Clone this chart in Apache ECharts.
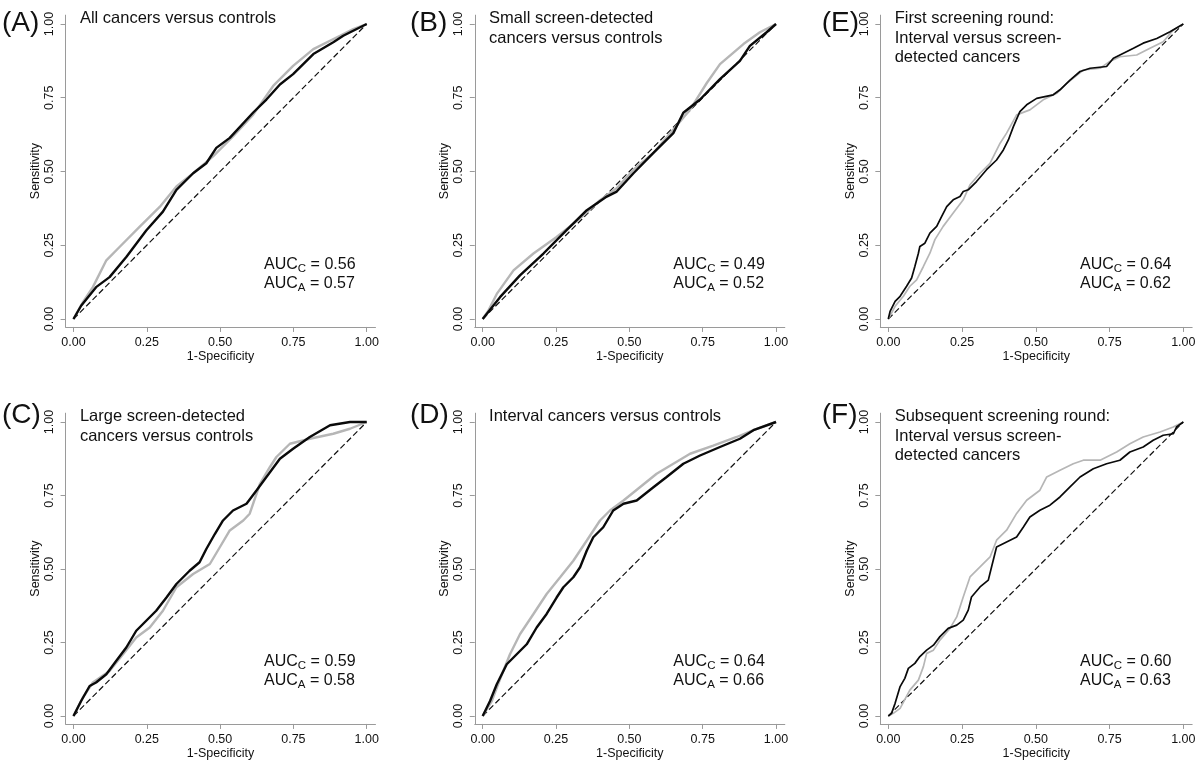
<!DOCTYPE html>
<html><head><meta charset="utf-8">
<script src="https://cdn.jsdelivr.net/npm/echarts@6/dist/echarts.min.js"></script>
<style>html,body{margin:0;padding:0;background:#fff}#c{width:1200px;height:766px}</style>
</head><body><div id="c"></div>
<script>
// ---------- data ----------
const panelLabels = ['(A)', '(B)', '(E)', '(C)', '(D)', '(F)'];
const panelTitles = [
  ['All cancers versus controls'],
  ['Small screen-detected', 'cancers versus controls'],
  ['First screening round:', 'Interval versus screen-', 'detected cancers'],
  ['Large screen-detected', 'cancers versus controls'],
  ['Interval cancers versus controls'],
  ['Subsequent screening round:', 'Interval versus screen-', 'detected cancers']
];
const aucC = ['0.56', '0.49', '0.64', '0.59', '0.64', '0.60'];
const aucA = ['0.57', '0.52', '0.62', '0.58', '0.66', '0.63'];
const tickValues = [0, 0.25, 0.5, 0.75, 1];
const tickLabels = ['0.00', '0.25', '0.50', '0.75', '1.00'];
const xAxisName = '1-Specificity';
const yAxisName = 'Sensitivity';
const diagonal = [[0, 0], [1, 1]];

const blackA = [[0,0],[0.026,0.045],[0.077,0.108],[0.123,0.142],[0.18,0.21],[0.248,0.30],[0.305,0.364],[0.351,0.438],[0.408,0.494],[0.453,0.528],[0.487,0.58],[0.533,0.614],[0.613,0.70],[0.658,0.744],[0.704,0.795],[0.749,0.83],[0.818,0.898],[0.886,0.938],[0.92,0.96],[1,1]];
const grayA = [[0,0],[0.032,0.057],[0.066,0.108],[0.112,0.199],[0.157,0.244],[0.226,0.313],[0.294,0.38],[0.351,0.449],[0.408,0.494],[0.476,0.551],[0.544,0.619],[0.613,0.693],[0.681,0.79],[0.749,0.858],[0.818,0.915],[0.909,0.96],[0.954,0.983],[1,1]];

const blackB = [[0,0],[0.059,0.074],[0.127,0.148],[0.207,0.222],[0.286,0.301],[0.355,0.369],[0.423,0.415],[0.457,0.432],[0.514,0.494],[0.582,0.563],[0.65,0.63],[0.684,0.699],[0.741,0.744],[0.809,0.813],[0.877,0.875],[0.911,0.926],[0.968,0.972],[1,1]];
const grayB = [[0,0],[0.019,0.028],[0.048,0.085],[0.105,0.165],[0.173,0.222],[0.252,0.278],[0.332,0.341],[0.4,0.403],[0.457,0.443],[0.514,0.506],[0.582,0.563],[0.65,0.642],[0.707,0.71],[0.764,0.80],[0.809,0.864],[0.889,0.932],[0.945,0.972],[1,1]];

const blackE = [[0,0],[0.006,0.026],[0.023,0.06],[0.04,0.077],[0.062,0.111],[0.079,0.139],[0.09,0.178],[0.102,0.223],[0.107,0.246],[0.124,0.257],[0.141,0.291],[0.164,0.314],[0.181,0.348],[0.198,0.381],[0.22,0.404],[0.243,0.415],[0.254,0.432],[0.271,0.438],[0.299,0.466],[0.333,0.506],[0.367,0.539],[0.39,0.573],[0.407,0.607],[0.424,0.652],[0.446,0.703],[0.469,0.726],[0.503,0.748],[0.559,0.76],[0.582,0.777],[0.616,0.81],[0.65,0.839],[0.684,0.85],[0.74,0.856],[0.763,0.884],[0.797,0.901],[0.831,0.918],[0.864,0.935],[0.91,0.951],[0.955,0.974],[1,1]];
const grayE = [[0,0],[0.023,0.043],[0.051,0.077],[0.073,0.111],[0.096,0.133],[0.119,0.178],[0.141,0.223],[0.158,0.269],[0.186,0.314],[0.22,0.359],[0.254,0.404],[0.277,0.455],[0.311,0.494],[0.345,0.528],[0.379,0.596],[0.401,0.63],[0.435,0.692],[0.48,0.709],[0.525,0.743],[0.571,0.765],[0.605,0.799],[0.661,0.844],[0.718,0.85],[0.751,0.873],[0.785,0.889],[0.842,0.895],[0.887,0.918],[0.932,0.94],[0.966,0.98],[1,1]];

const blackC = [[0,0],[0.026,0.051],[0.055,0.102],[0.077,0.114],[0.112,0.142],[0.146,0.188],[0.18,0.233],[0.214,0.29],[0.248,0.324],[0.282,0.358],[0.317,0.403],[0.351,0.449],[0.396,0.494],[0.43,0.523],[0.453,0.568],[0.482,0.619],[0.51,0.665],[0.544,0.699],[0.59,0.722],[0.624,0.767],[0.658,0.813],[0.704,0.875],[0.749,0.909],[0.806,0.949],[0.875,0.989],[0.943,1.0],[1,1]];
const grayC = [[0,0],[0.032,0.063],[0.066,0.114],[0.123,0.153],[0.169,0.21],[0.214,0.267],[0.26,0.301],[0.305,0.358],[0.351,0.438],[0.408,0.483],[0.465,0.517],[0.499,0.574],[0.533,0.631],[0.579,0.665],[0.601,0.688],[0.636,0.79],[0.67,0.847],[0.692,0.881],[0.738,0.926],[0.806,0.943],[0.886,0.96],[0.943,0.977],[1,1]];

const blackD = [[0,0],[0.025,0.051],[0.048,0.108],[0.082,0.176],[0.116,0.21],[0.15,0.244],[0.184,0.301],[0.218,0.347],[0.252,0.403],[0.275,0.438],[0.309,0.472],[0.332,0.506],[0.355,0.563],[0.377,0.608],[0.411,0.642],[0.445,0.699],[0.48,0.722],[0.525,0.733],[0.582,0.778],[0.627,0.813],[0.684,0.858],[0.741,0.886],[0.809,0.915],[0.877,0.943],[0.923,0.972],[1,1]];
const grayD = [[0,0],[0.031,0.051],[0.059,0.125],[0.093,0.21],[0.127,0.278],[0.173,0.347],[0.218,0.415],[0.264,0.472],[0.309,0.528],[0.355,0.597],[0.4,0.665],[0.434,0.699],[0.48,0.733],[0.536,0.778],[0.593,0.824],[0.65,0.858],[0.707,0.892],[0.786,0.92],[0.866,0.949],[0.923,0.972],[1,1]];

const blackF = [[0,0],[0.011,0.009],[0.023,0.043],[0.04,0.1],[0.056,0.128],[0.068,0.162],[0.09,0.179],[0.107,0.202],[0.13,0.224],[0.153,0.241],[0.175,0.27],[0.203,0.298],[0.232,0.309],[0.254,0.326],[0.271,0.36],[0.282,0.405],[0.311,0.439],[0.339,0.462],[0.35,0.507],[0.367,0.575],[0.401,0.592],[0.435,0.609],[0.458,0.643],[0.48,0.677],[0.514,0.7],[0.548,0.717],[0.582,0.745],[0.616,0.779],[0.65,0.813],[0.695,0.841],[0.74,0.858],[0.785,0.87],[0.819,0.898],[0.864,0.915],[0.898,0.938],[0.932,0.955],[0.966,0.96],[0.977,0.983],[1,1]];
const grayF = [[0,0],[0.017,0.009],[0.04,0.026],[0.073,0.088],[0.102,0.122],[0.119,0.168],[0.13,0.213],[0.153,0.224],[0.175,0.258],[0.209,0.298],[0.232,0.337],[0.254,0.405],[0.277,0.473],[0.311,0.507],[0.345,0.541],[0.367,0.598],[0.401,0.632],[0.435,0.689],[0.469,0.734],[0.514,0.768],[0.537,0.813],[0.582,0.836],[0.627,0.858],[0.661,0.87],[0.718,0.87],[0.774,0.898],[0.819,0.926],[0.864,0.949],[0.921,0.966],[0.966,0.983],[1,1]];

const blackCurves = [blackA, blackB, blackE, blackC, blackD, blackF];
const grayCurves = [grayA, grayB, grayE, grayC, grayD, grayF];

// ---------- layout ----------
const FONT = '"Liberation Sans", Arial, Helvetica, sans-serif';
const colX0 = [73.5, 482.7, 888.3], colSpan = [293.2, 293.3, 295];
const rowY1 = [24, 422], rowSpan = [295, 294];
const AX_MIN = -0.027, AX_MAX = 1.03;
const labelX = [2, 410, 821.7], labelCY = [23, 415.5];
const curveWidth = [2.4, 2.4, 1.7, 2.4, 2.4, 1.7];
const AXIS_COLOR = '#9a9a9a';

const chart = echarts.init(document.getElementById('c'), null, {renderer: 'canvas'});
const grids = [], xAxes = [], yAxes = [], series = [];
for (let i = 0; i < 6; i++) {
  const r = i < 3 ? 0 : 1, c = i % 3;
  const sx = colSpan[c], sy = rowSpan[r];
  grids.push({
    left: colX0[c] + AX_MIN * sx,
    top: rowY1[r] - (AX_MAX - 1) * sy,
    width: (AX_MAX - AX_MIN) * sx,
    height: (AX_MAX - AX_MIN) * sy
  });
  const common = {
    type: 'value', gridIndex: i, min: AX_MIN, max: AX_MAX,
    splitLine: {show: false},
    axisLine: {show: true, onZero: false, lineStyle: {color: AXIS_COLOR, width: 1}},
    axisTick: {show: true, length: 5, customValues: tickValues, lineStyle: {color: AXIS_COLOR}},
    axisLabel: {customValues: tickValues, margin: 9.5, color: '#111', fontSize: 12.5, fontFamily: FONT,
      formatter: v => tickLabels[tickValues.indexOf(Math.round(v * 100) / 100)] ?? v.toFixed(2)},
    nameLocation: 'middle',
    nameTextStyle: {color: '#111', fontSize: 12.5, fontFamily: FONT}
  };
  xAxes.push(Object.assign({}, common, {name: xAxisName, nameGap: 21}));
  yAxes.push(Object.assign({}, common, {name: yAxisName, nameGap: 22.5,
    axisLabel: Object.assign({}, common.axisLabel, {rotate: 90})}));
  series.push({type: 'line', xAxisIndex: i, yAxisIndex: i, data: diagonal, symbol: 'none', silent: true,
    lineStyle: {color: '#111', width: 1.2, type: [6, 3]}, z: 1});
  series.push({type: 'line', xAxisIndex: i, yAxisIndex: i, data: grayCurves[i], symbol: 'none', silent: true,
    lineStyle: {color: '#b6b6b6', width: curveWidth[i]}, z: 2});
  series.push({type: 'line', xAxisIndex: i, yAxisIndex: i, data: blackCurves[i], symbol: 'none', silent: true,
    lineStyle: {color: '#0a0a0a', width: curveWidth[i]}, z: 3});
}
chart.setOption({animation: false, backgroundColor: '#fff', grid: grids, xAxis: xAxes, yAxis: yAxes, series: series});

// ---------- annotations ----------
const ctx = document.createElement('canvas').getContext('2d');
function tw(text, size) { ctx.font = size + 'px ' + FONT; return ctx.measureText(text).width; }
const graphics = [];
function txt(x, y, text, size, align) {
  graphics.push({type: 'text', x: x, y: y, silent: true,
    style: {text: text, font: size + 'px ' + FONT, fill: '#111', textAlign: align || 'left', textVerticalAlign: 'middle'}});
}
const TITLE_SIZE = 16.5, AUC_SIZE = 16, SUB_SIZE = 11.5;
for (let i = 0; i < 6; i++) {
  const r = i < 3 ? 0 : 1, c = i % 3;
  txt(labelX[c], labelCY[r], panelLabels[i], 28);
  const tx = colX0[c] + AX_MIN * colSpan[c] + 14.3;
  panelTitles[i].forEach((line, k) => txt(tx, rowY1[r] - 5.5 + k * 19.7, line, TITLE_SIZE));
  const lines = [['C', aucC[i]], ['A', aucA[i]]];
  lines.forEach((ln, k) => {
    const p = chart.convertToPixel({gridIndex: i}, [0.65, k === 0 ? 0.185 : 0.12]);
    let x = p[0];
    txt(x, p[1], 'AUC', AUC_SIZE); x += tw('AUC', AUC_SIZE);
    txt(x, p[1] + 4.3, ln[0], SUB_SIZE); x += tw(ln[0], SUB_SIZE);
    txt(x, p[1], ' = ' + ln[1], AUC_SIZE);
  });
}
chart.setOption({graphic: graphics});
</script></body></html>
